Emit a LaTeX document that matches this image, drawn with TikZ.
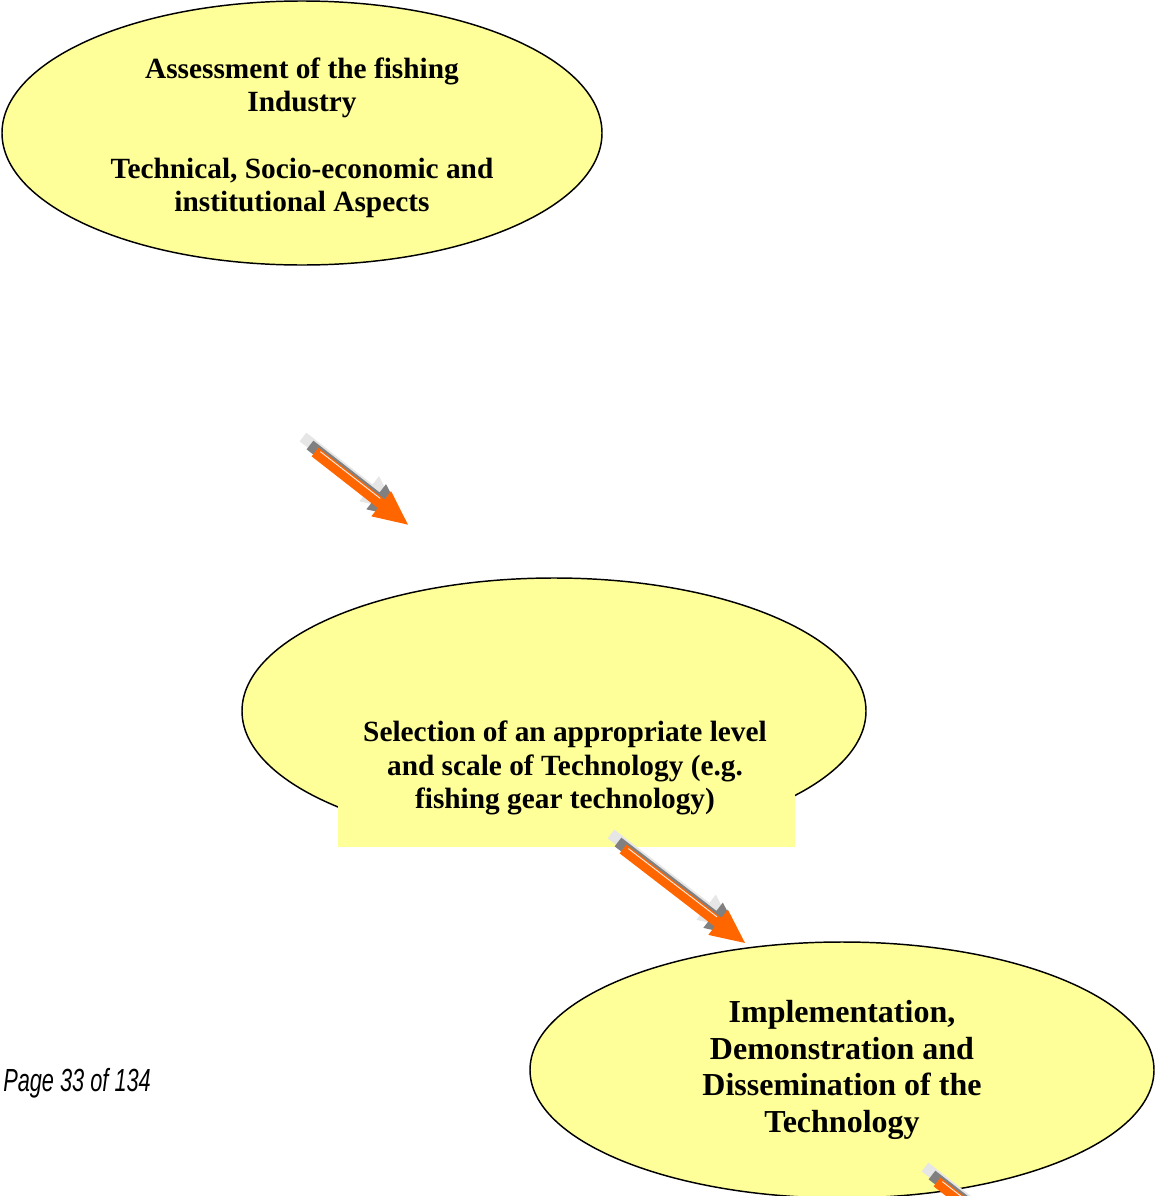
\documentclass[tikz,border=0pt]{standalone}
\usepackage{fontspec}
\setmainfont{Liberation Serif}
\newfontfamily\pagefont{Liberation Sans}
\usetikzlibrary{shapes.geometric}
\definecolor{fillyel}{RGB}{255,255,153}
\definecolor{arrorange}{RGB}{255,102,0}
\definecolor{arrgray}{RGB}{128,128,128}
\definecolor{arrlight}{RGB}{230,230,230}
\tikzset{
  bubble/.style={ellipse, draw=black, line width=1.1pt, fill=fillyel, inner sep=0pt},
  bubbletext/.style={align=center, inner sep=0pt, font=\bfseries\fontsize{22}{25}\selectfont},
}
\newcommand\blockarrow[4]{%
  \foreach \dx/\dy/\c in {-12/-15/arrlight,-5/-7/arrgray,0/0/arrorange}{%
    \begin{scope}[shift={(#1+\dx,#2+\dy)}, rotate=-#3]
      \fill[\c] (0,-5.5) -- ({#4-34},-5.5) -- ({#4-34},-16) -- (#4,0) -- ({#4-34},16) -- ({#4-34},5.5) -- (0,5.5) -- cycle;
    \end{scope}}%
  \begin{scope}[shift={(#1,#2)}, rotate=-#3]
    \draw[white!85!arrgray, line width=0.7pt] (4,-3.6) -- ({#4-38},-3.6);
  \end{scope}}
\begin{document}
\begin{tikzpicture}[x=0.75pt, y=-0.75pt]
\useasboundingbox (0,0) rectangle (1157,1196);
\clip (0,0) rectangle (1157,1196);
% ellipse 1
\node[bubble, minimum width=450pt, minimum height=198pt] (e1) at (302,133) {};
\node[bubbletext] (t1) at (302,138) {Assessment of the fishing\\Industry\\[25pt]Technical, Socio-economic and\\institutional Aspects};
% ellipse 2
\node[bubble, minimum width=468pt, minimum height=199.5pt] (e2) at (554,711) {};
\fill[fillyel] (338,720) rectangle (795,847);
\node[inner sep=0pt, minimum width=342.75pt, minimum height=95.25pt] (r2) at (566.5,783.5) {};
\node[bubbletext] (t2) at (565,768) {Selection of an appropriate level\\and scale of Technology (e.g.\\fishing gear technology)};
% ellipse 3
\node[bubble, minimum width=468pt, minimum height=192pt] (e3) at (842,1070) {};
\node[bubbletext, font=\bfseries\fontsize{24}{27.6}\selectfont] (t3) at (842,1070) {Implementation,\\Demonstration and\\Dissemination of the\\Technology};
% page label
\node[anchor=west, inner sep=0pt] (pg) at (3,1083) {\scalebox{0.68}[1]{\pagefont\itshape\fontsize{24}{27}\selectfont Page 33 of 134}};
% arrows
\blockarrow{315}{452}{38}{118}
\blockarrow{623}{849}{37.6}{154}
\blockarrow{937}{1182}{38}{154}
\end{tikzpicture}
\end{document}
